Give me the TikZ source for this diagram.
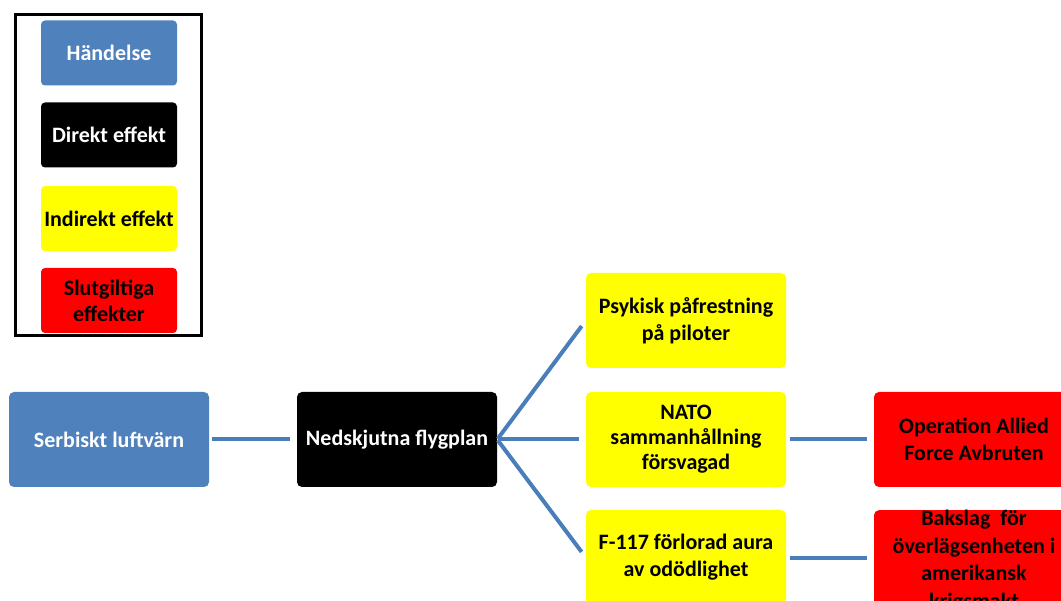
\documentclass[tikz,border=0pt]{standalone}
\usepackage{fontspec}
\setmainfont{Carlito}
\definecolor{evblue}{HTML}{4F81BD}
\definecolor{linkblue}{HTML}{4A7EBB}
\definecolor{evred}{HTML}{FF0000}
\definecolor{evyellow}{HTML}{FFFF00}
\tikzset{
  box/.style={rounded corners=5pt, minimum width=200pt, minimum height=95pt, inner sep=0pt, align=center,
    font=\fontsize{22}{27}\selectfont\bfseries},
  legbox/.style={rounded corners=4pt, minimum width=136pt, minimum height=65pt, inner sep=0pt, align=center,
    font=\fontsize{22}{26}\selectfont\bfseries},
  bluebox/.style={fill=evblue, text=white},
  blackbox/.style={fill=black, text=white},
  yellowbox/.style={fill=evyellow, text=black},
  redbox/.style={fill=evred, text=black},
  link/.style={draw=linkblue, line width=4pt}
}
\begin{document}
\begin{tikzpicture}[x=1pt,y=-1pt]
\useasboundingbox (0,0) rectangle (1061,601);
\clip (0,0) rectangle (1061,601);
% legend
\node[draw=black, line width=3pt, minimum width=186pt, minimum height=321pt, inner sep=0pt] (legend) at (108,175) {};
\node[legbox, bluebox] (lh) at (109,53) {Händelse};
\node[legbox, blackbox] (ld) at (109,135) {Direkt effekt};
\node[legbox, yellowbox] (li) at (109,218.5) {Indirekt effekt};
\node[legbox, redbox] (ls) at (109,300.5) {Slutgiltiga\\effekter};
% main nodes
\node[box, bluebox] (ser) at (109,439.5) {Serbiskt luftvärn};
\node[box, blackbox] (ned) at (397,439.5) {Nedskjutna flygplan};
\node[box, yellowbox] (psy) at (686,320.5) {Psykisk påfrestning\\på piloter};
\node[box, yellowbox, font=\fontsize{22}{25}\selectfont\bfseries] (nato) at (686,439.5) {NATO\\sammanhållning\\försvagad};
\node[box, yellowbox] (f117) at (686,557.5) {F-117 förlorad aura\\av odödlighet};
\node[box, redbox] (op) at (974,439.5) {Operation Allied\\Force Avbruten};
\node[box, redbox, font=\fontsize{22}{27.5}\selectfont\bfseries] (bak) at (974,561) {Bakslag\ \ för\\överlägsenheten i\\amerikansk\\krigsmakt};
% connectors
\draw[link, shorten <=3pt, shorten >=7pt] (ser.east) -- (ned.west);
\draw[link, shorten <=1pt, shorten >=7pt] (ned.east) -- (psy.west);
\draw[link, shorten <=1pt, shorten >=7pt] (ned.east) -- (nato.west);
\draw[link, shorten <=1pt, shorten >=7pt] (ned.east) -- (f117.west);
\draw[link, shorten <=4pt, shorten >=7pt] (nato.east) -- (op.west);
\draw[link, shorten <=4pt, shorten >=7pt] (f117.east) -- (bak.west |- f117.east);
\end{tikzpicture}
\end{document}
